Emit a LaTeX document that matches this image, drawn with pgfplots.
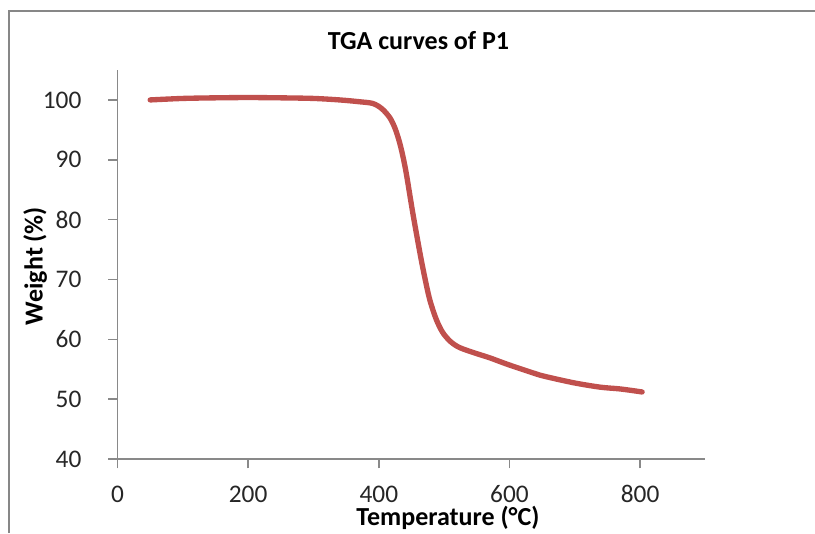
\documentclass[border=0pt]{standalone}
\usepackage{pgfplots}
\pgfplotsset{compat=1.18}
\usepackage{fontspec}
\setmainfont{Carlito}
\definecolor{axgray}{HTML}{898989}
\definecolor{framegray}{HTML}{878787}
\definecolor{tgared}{HTML}{C0504D}
\begin{document}
\begin{tikzpicture}
\useasboundingbox (0,0) rectangle (611.25pt,399.75pt);
\draw[framegray, line width=1.6pt] (6.75pt,0pt) -- (6.75pt,391.5pt) -- (615pt,391.5pt);
\begin{axis}[
  at={(88.125pt,55.5pt)}, anchor=south west,
  scale only axis, width=441pt, height=291.75pt,
  xmin=0, xmax=900, ymin=40, ymax=105,
  xtick={0,200,400,600,800}, ytick={40,50,60,70,80,90,100},
  axis x line=bottom, axis y line=left,
  axis line style={-, axgray, line width=1.1pt},
  tick style={axgray, line width=1.1pt},
  tick align=outside, major tick length=7pt,
  /pgf/number format/assume math mode=true,
  ticklabel style={font=\fontsize{19}{19}\selectfont, text=black!85, inner sep=0pt},
  yticklabel style={anchor=east, xshift=-19.9pt},
  xticklabel style={anchor=base, yshift=-25.5pt},
  title={\bfseries TGA curves of P1},
  title style={at={(axis description cs:0.512,1.0334)}, anchor=base, inner sep=0pt, font=\fontsize{19.5}{19.5}\selectfont},
  xlabel={\bfseries Temperature (°C)},
  xlabel style={at={(axis description cs:0.562,-0.1722)}, anchor=base, inner sep=0pt, font=\fontsize{19.5}{19.5}\selectfont},
  ylabel={\bfseries Weight (\%)},
  ylabel style={at={(axis description cs:-0.1272,0.496)}, anchor=base, inner sep=0pt, font=\fontsize{19.5}{19.5}\selectfont},
  clip=false,
]
\addplot[tgared, line width=4pt, line cap=round, line join=round, smooth, tension=0.5] coordinates {
(50,100.0) (100,100.25) (150,100.35) (200,100.4) (250,100.35) (300,100.25)
(340,100.0) (370,99.7) (391,99.4) (405,98.5) (417,97.0) (425,95.2)
(432,92.8) (438,90.0) (443,87.1) (452,81.1) (463,74.4) (470,70.5)
(478,66.6) (488,63.3) (498,61.1) (510,59.6) (524,58.6) (550,57.6)
(570,56.9) (600,55.7) (647,54.0) (662,53.6) (700,52.7) (739,52.0)
(770,51.7) (803,51.2)
};
\end{axis}
\end{tikzpicture}
\end{document}
